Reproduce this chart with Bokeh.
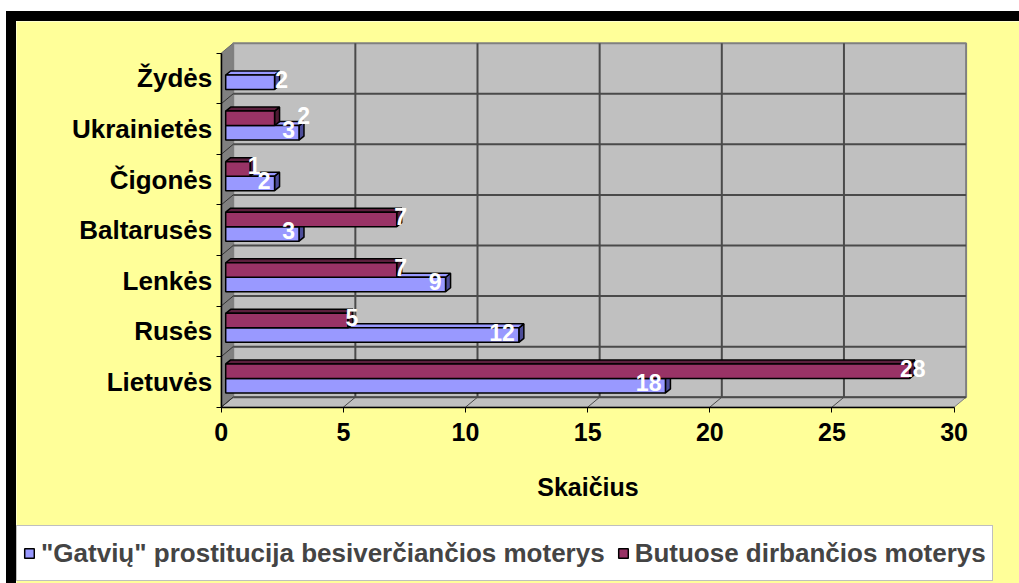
from bokeh.plotting import figure
from bokeh.models import Range1d, FixedTicker, Legend, LegendItem, ColumnDataSource
from bokeh.core.properties import value
from bokeh.embed import file_html
from bokeh.resources import INLINE

# ---------------- data ----------------
categories = ["Lietuvės", "Rusės", "Lenkės", "Baltarusės", "Čigonės", "Ukrainietės", "Žydės"]
street = [18, 12, 9, 3, 2, 3, 2]
brothel = [28, 5, 7, 7, 1, 2, None]
x_ticks = [0, 5, 10, 15, 20, 25, 30]
series_names = ['"Gatvių" prostitucija besiverčiančios moterys', "Butuose dirbančios moterys"]
x_title = "Skaičius"

# ---------------- styles ----------------
YELLOW = "#FFFF99"
WALL = "#C0C0C0"
SIDE = "#808080"
BLUE, BLUE_TOP, BLUE_SIDE = "#9999FF", "#9999FF", "#4D4D99"
MAROON, MAROON_TOP, MAROON_SIDE = "#993366", "#5C1F3D", "#4D1A33"
FONT = "Liberation Sans"

# label placement styles (screen px nudges)
street_label_align = ["right", "right", "right", "right", "right", "right", "center"]
street_label_dx = [-4, -4, -4, -4, -4, -4, 7]
brothel_label_align = ["center"] * 7
brothel_label_dx = [3, 4, 4, 4, 4, 29, 0]
label_dy = -3

# canvas geometry (px)
CW, CH = 1013, 572
X0_PX, Y0_PX = 204.7, 385.7      # where value 0 / floor front sits on the canvas
SX, SY = 24.43, 50.57            # px per unit on x / per category on y
DX_PX, DY_PX = 12, 10            # wall depth
n = len(categories)
xmax = x_ticks[-1]
dxu, dyu = DX_PX / SX, DY_PX / SY
bar_dx, bar_dy = 4.5 / SX, 3.5 / SY
bar_h = 14.5 / SY
bdx, bdy = 5 / SX, 4 / SY

p = figure(width=CW, height=CH,
           x_range=Range1d(-X0_PX / SX, (CW - X0_PX) / SX),
           y_range=Range1d(-(CH - Y0_PX) / SY, Y0_PX / SY),
           min_border=0, title_location=None,
           output_backend="svg", toolbar_location=None,
           background_fill_color=YELLOW, border_fill_color=YELLOW, outline_line_color=None)
p.styles = {"border-left": "10px solid black", "border-top": "10px solid black",
            "margin-left": "6px", "margin-top": "11px"}
p.xgrid.visible = False
p.ygrid.visible = False

# walls & floor
p.patch(x=[0, dxu, dxu, 0], y=[0, dyu, n + dyu, n], fill_color=SIDE, line_color="#666666", line_width=1)
p.quad(left=dxu, right=xmax + dxu, bottom=dyu, top=n + dyu, fill_color=WALL, line_color="#808080", line_width=2)
p.patch(x=[0, xmax, xmax + dxu, dxu], y=[0, 0, dyu, dyu], fill_color=WALL, line_color="#808080", line_width=1)

GRID = "#4A4A4A"
inner_t = x_ticks[1:-1]
p.segment(x0=[t + dxu for t in inner_t], y0=[dyu] * len(inner_t),
          x1=[t + dxu for t in inner_t], y1=[n + dyu] * len(inner_t), line_color=GRID, line_width=2)
p.segment(x0=[dxu] * (n - 1), y0=[k + dyu for k in range(1, n)],
          x1=[xmax + dxu] * (n - 1), y1=[k + dyu for k in range(1, n)], line_color=GRID, line_width=2)
p.segment(x0=x_ticks[:-1], y0=[0] * (len(x_ticks) - 1),
          x1=[t + dxu for t in x_ticks[:-1]], y1=[dyu] * (len(x_ticks) - 1), line_color=GRID, line_width=1)
p.segment(x0=[0] * n, y0=list(range(n)), x1=[dxu] * n, y1=[k + dyu for k in range(n)],
          line_color="#333333", line_width=1)
p.segment(x0=[dxu], y0=[dyu], x1=[xmax + dxu], y1=[dyu], line_color=GRID, line_width=2)


def draw_series(vals, sign, fc, tc, scc):
    ys, rs, cats = [], [], []
    top_xs, top_ys, side_xs, side_ys = [], [], [], []
    for i, v in enumerate(vals):
        if v is None:
            continue
        yc = i + 0.5 + bar_dy + sign * bar_h / 2
        right = v + bar_dx
        top, bot = yc + bar_h / 2, yc - bar_h / 2
        ys.append(yc); rs.append(right); cats.append(categories[i])
        top_xs.append([bar_dx, right, right + bdx, bar_dx + bdx])
        top_ys.append([top, top, top + bdy, top + bdy])
        side_xs.append([right, right + bdx, right + bdx, right])
        side_ys.append([bot, bot + bdy, top + bdy, top])
    p.patches(xs=side_xs, ys=side_ys, fill_color=scc, line_color="black", line_width=1.5)
    p.patches(xs=top_xs, ys=top_ys, fill_color=tc, line_color="black", line_width=1.5)
    src = ColumnDataSource(dict(y=ys, right=rs, cat=cats))
    return p.hbar(y="y", left=bar_dx, right="right", height=bar_h, source=src,
                  fill_color=fc, line_color="black", line_width=1.5)


r_blue = draw_series(street, -1, BLUE, BLUE_TOP, BLUE_SIDE)
r_mar = draw_series(brothel, +1, MAROON, MAROON_TOP, MAROON_SIDE)


def draw_labels(vals, sign, aligns, dxs):
    groups = {}
    for i, v in enumerate(vals):
        if v is None:
            continue
        yc = i + 0.5 + bar_dy + sign * bar_h / 2
        g = groups.setdefault(aligns[i], dict(x=[], y=[], t=[], dx=[]))
        g["x"].append(v + bar_dx); g["y"].append(yc); g["t"].append(str(v)); g["dx"].append(dxs[i])
    for al, g in groups.items():
        src = ColumnDataSource(g)
        p.text(x="x", y="y", text="t", x_offset="dx", y_offset=label_dy, source=src,
               text_align=al, text_baseline="middle", text_color="white",
               text_font=value(FONT), text_font_style="bold", text_font_size="23px")


draw_labels(street, -1, street_label_align, street_label_dx)
draw_labels(brothel, +1, brothel_label_align, brothel_label_dx)

# axes (fixed at the front edges of the 3D floor / side wall)
xa = p.xaxis[0]
xa.fixed_location = 0
xa.ticker = FixedTicker(ticks=x_ticks, minor_ticks=[])
xa.bounds = (0, xmax)
xa.axis_line_color = "black"; xa.axis_line_width = 1.5
xa.major_tick_out = 5; xa.major_tick_in = 0; xa.major_tick_line_color = "black"
xa.major_label_text_font = FONT; xa.major_label_text_font_style = "bold"
xa.major_label_text_font_size = "25px"; xa.major_label_text_color = "black"
xa.major_label_standoff = 11
xa.axis_label = x_title
xa.axis_label_text_font = FONT; xa.axis_label_text_font_style = "bold"
xa.axis_label_text_font_size = "25px"; xa.axis_label_text_color = "black"
xa.axis_label_standoff = 28

ya = p.yaxis[0]
ya.fixed_location = 0
ya.ticker = FixedTicker(ticks=[i + 0.5 for i in range(n)], minor_ticks=list(range(n + 1)))
ya.major_label_overrides = {i + 0.5: c for i, c in enumerate(categories)}
ya.bounds = (0, n)
ya.axis_line_color = "black"; ya.axis_line_width = 1.5
ya.major_tick_out = 0; ya.major_tick_in = 0
ya.minor_tick_out = 5; ya.minor_tick_in = 0; ya.minor_tick_line_color = "black"
ya.major_label_text_font = FONT; ya.major_label_text_font_style = "bold"
ya.major_label_text_font_size = "26px"; ya.major_label_text_color = "black"
ya.major_label_standoff = 4

legend = Legend(items=[LegendItem(label=series_names[0], renderers=[r_blue]),
                       LegendItem(label=series_names[1], renderers=[r_mar])],
                orientation="horizontal", location=(0, 12))
legend.background_fill_color = "white"; legend.background_fill_alpha = 1
legend.border_line_color = "#808080"; legend.border_line_width = 1.5
legend.label_text_font = FONT; legend.label_text_font_style = "bold"
legend.label_text_font_size = "26px"
legend.glyph_width = 12; legend.glyph_height = 12
legend.label_standoff = 6; legend.spacing = 12; legend.padding = 6; legend.margin = 0
legend.label_height = 42
p.add_layout(legend, "center")

open("out.html", "w").write(file_html(p, INLINE))
